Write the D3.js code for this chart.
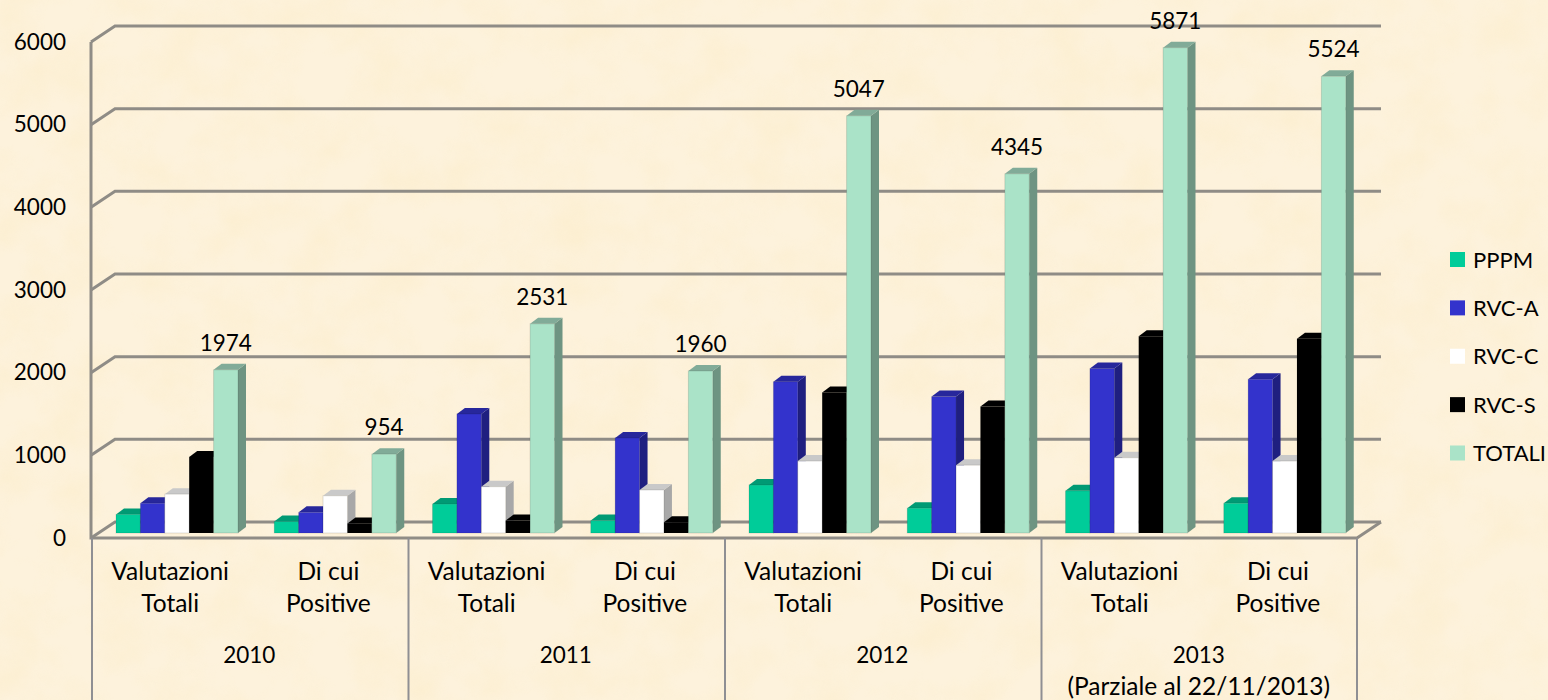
<!DOCTYPE html>
<html><head><meta charset="utf-8">
<script src="https://cdn.jsdelivr.net/npm/d3@7"></script>
<style>
html,body{margin:0;padding:0;background:#fcf0d8;overflow:hidden}
text{font-family:Lato,"Open Sans",sans-serif;fill:#000}
</style></head><body><svg id="c" width="1548" height="700"></svg>
<script>
const years = ["2010","2011","2012","2013"];
const yearNotes = ["","","","(Parziale al 22/11/2013)"];
const subCategories = [["Valutazioni","Totali"],["Di cui","Positive"]];
const seriesNames = ["PPPM","RVC-A","RVC-C","RVC-S","TOTALI"];
const seriesFront = ["#00cc99","#3333cc","#ffffff","#000000","#aae3c8"];
const seriesTop = ["#009a74","#27279c","#c9c9c9","#000000","#81ab98"];
const seriesSide = ["#007f60","#1f1f80","#a8a8a8","#000000","#6e9482"];
const PPPM = [225,140,350,150,580,300,510,360];
const RVCA = [360,250,1440,1150,1830,1650,1990,1860];
const RVCC = [470,450,560,520,870,820,910,870];
const RVCS = [920,115,150,130,1700,1530,2380,2350];
const TOTALI = [1974,954,2531,1960,5047,4345,5871,5524];
const seriesValues = [PPPM,RVCA,RVCC,RVCS,TOTALI];
const yTicks = [0,1000,2000,3000,4000,5000,6000];

const svg = d3.select("#c");
const defs = svg.append("defs");
const f = defs.append("filter").attr("id","parch").attr("x",0).attr("y",0).attr("width","100%").attr("height","100%");
f.append("feTurbulence").attr("type","fractalNoise").attr("baseFrequency",0.02).attr("numOctaves",4).attr("seed",11);
f.append("feColorMatrix").attr("type","matrix").attr("values","0 0 0 0 0.97  0 0 0 0 0.84  0 0 0 0 0.58  1.6 0 0 0 -0.58");
svg.append("rect").attr("width",1548).attr("height",700).attr("fill","#fdf2dc");
svg.append("rect").attr("width",1548).attr("height",700).attr("filter","url(#parch)").attr("opacity",0.6);

const left=91,right=1357,base=538,top6=42,dx=24,dy=16,barDx=8,barDy=6,barBase=533;
const y = d3.scaleLinear().domain([0,6000]).range([base,top6]);
const yH = d3.scaleLinear().domain([0,6000]).range([0,base-top6]);
const idx = d3.range(8);
const x0 = d3.scaleBand().domain(idx).range([left,right]);
const x1 = d3.scaleBand().domain(d3.range(5)).range([0,122]);
const grid = "#8f8c86";
const wordSize = "24.5px", numSize = "22.5px";

// walls
const g = svg.append("g").attr("fill","none").attr("stroke",grid).attr("stroke-width",3);
g.selectAll("path.gr").data(yTicks).join("path").attr("class","gr")
 .attr("d",v=>`M${left},${y(v)}L${left+dx},${y(v)-dy}H${right+dx}`);
g.append("path").attr("d",`M${left},${top6}V${base}H${right}L${right+dx},${base-dy}`);

// y axis labels
const ax = svg.append("g").attr("transform",`translate(${left},0)`)
 .call(d3.axisLeft(y).tickValues(yTicks).tickSize(0).tickPadding(25).tickFormat(d3.format("d")));
ax.select(".domain").remove();
ax.selectAll("line").remove();
ax.selectAll("text").style("font-size",numSize).style("font-family","Lato").attr("fill","#000");

// bars
const cats = svg.append("g").selectAll("g").data(idx).join("g")
 .attr("transform",i=>`translate(${x0(i)+25},0)`);
cats.each(function(i){
  const c = d3.select(this);
  seriesValues.forEach((vals,s)=>{
    const v=vals[i], bx=x1(s), w=x1.bandwidth(), t=barBase-yH(v);
    c.append("path").attr("fill",seriesSide[s]).attr("d",`M${bx+w},${t}l${barDx},${-barDy}V${barBase-barDy}l${-barDx},${barDy}Z`);
    c.append("path").attr("fill",seriesTop[s]).attr("d",`M${bx},${t}l${barDx},${-barDy}h${w}l${-barDx},${barDy}Z`);
    c.append("rect").attr("x",bx).attr("y",t).attr("width",w).attr("height",barBase-t).attr("fill",seriesFront[s])
      .attr("stroke",s===3?"none":"#000").attr("stroke-opacity",0.12).attr("stroke-width",1);
    if(s===4) c.append("text").attr("x",bx+w/2).attr("y",t-19).attr("text-anchor","middle").style("font-size",numSize).text(v);
  });
});

// multi-level category axis
const cat = svg.append("g");
cat.selectAll("line").data(d3.range(5)).join("line")
 .attr("x1",i=>x0(i*2)!==undefined?x0(i*2)+1:right).attr("x2",i=>x0(i*2)!==undefined?x0(i*2)+1:right)
 .attr("y1",base).attr("y2",700).attr("stroke","#8f8f93").attr("stroke-width",2);
idx.forEach(i=>{
  const cx=x0(i)+x0.bandwidth()/2;
  subCategories[i%2].forEach((t,k)=>cat.append("text").attr("x",cx).attr("y",580+k*32).attr("text-anchor","middle").style("font-size",wordSize).text(t));
});
years.forEach((yr,i)=>{
  const cx=x0(i*2)+x0.bandwidth();
  cat.append("text").attr("x",cx).attr("y",663).attr("text-anchor","middle").style("font-size",numSize).text(yr);
  if(yearNotes[i]) cat.append("text").attr("x",cx).attr("y",695).attr("text-anchor","middle").style("font-size",wordSize).text(yearNotes[i]);
});

// legend
const ly = d3.scalePoint().domain(seriesNames).range([259.5,453]);
const leg = svg.append("g").selectAll("g").data(seriesNames).join("g").attr("transform",d=>`translate(1450,${ly(d)})`);
leg.append("rect").attr("x",0).attr("y",-7.5).attr("width",15).attr("height",15).attr("fill",(d,i)=>seriesFront[i]);
leg.append("text").attr("x",23).attr("y",8).style("font-size","22px").text(d=>d);
</script></body></html>
